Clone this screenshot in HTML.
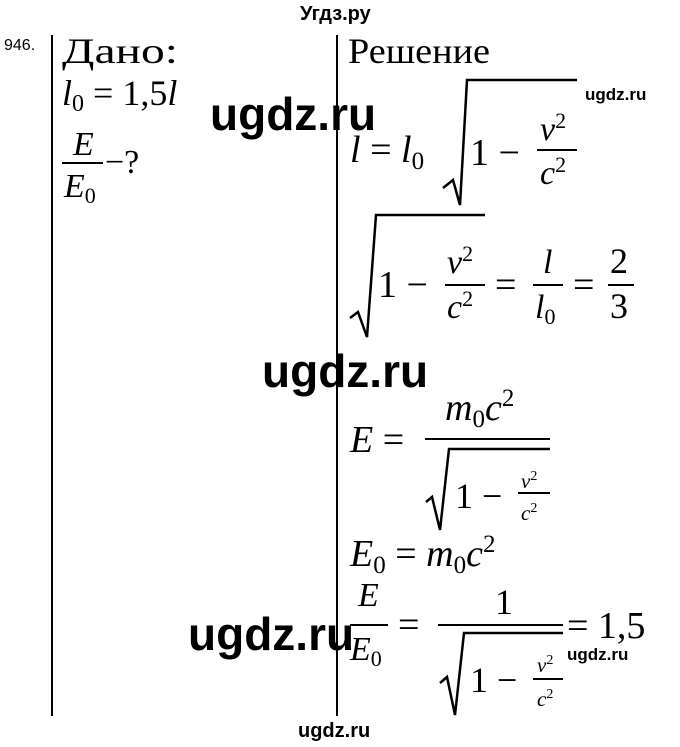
<!DOCTYPE html>
<html><head><meta charset="utf-8"><style>
html,body{margin:0;padding:0;background:#fff;}
svg{display:block}
.s{font-family:"Liberation Serif",serif;fill:#000}
.i{font-style:italic}
.w{font-family:"Liberation Sans",sans-serif;font-weight:bold;fill:#000}
</style></head><body>
<svg width="680" height="747" viewBox="0 0 680 747" xmlns="http://www.w3.org/2000/svg">
<text x="300" y="20" class="w" font-size="20">Угдз.ру</text>
<text x="4" y="50" font-family="Liberation Sans,sans-serif" font-size="16">946.</text>
<line x1="52" y1="35" x2="52" y2="716" stroke="#000" stroke-width="2"/>
<line x1="337" y1="35" x2="337" y2="716" stroke="#000" stroke-width="2"/>
<text x="62" y="63" class="s" font-size="36" textLength="116" lengthAdjust="spacingAndGlyphs">Дано:</text>
<text x="348" y="63" class="s" font-size="36" textLength="142" lengthAdjust="spacingAndGlyphs">Решение</text>
<text x="62" y="105" class="s" font-size="36"><tspan class="i">l</tspan><tspan font-size="24" dy="6">0</tspan><tspan dy="-6"> = 1,5</tspan><tspan class="i">l</tspan></text>
<text x="73" y="155" class="s i" font-size="34">E</text>
<line x1="62" y1="163" x2="103" y2="163" stroke="#000" stroke-width="2"/>
<text x="64" y="197" class="s" font-size="34"><tspan class="i">E</tspan><tspan font-size="22" dy="6">0</tspan></text>
<text x="105" y="173" class="s" font-size="34">−?</text>
<text x="210" y="130" class="w" font-size="46">ugdz.ru</text>
<text x="585" y="100" class="w" font-size="17">ugdz.ru</text>
<text x="350" y="162" class="s" font-size="38"><tspan class="i">l</tspan><tspan> = </tspan><tspan class="i">l</tspan><tspan font-size="25" dy="7">0</tspan></text>
<polyline points="443,188 453,180 460,205 467,80 577,80" fill="none" stroke="#000" stroke-width="2.5"/>
<text x="470" y="165" class="s" font-size="38">1 −</text>
<text x="540" y="140" class="s i" font-size="34">v<tspan font-size="22" dy="-12" font-style="normal">2</tspan></text>
<line x1="537" y1="150" x2="577" y2="150" stroke="#000" stroke-width="2"/>
<text x="540" y="184" class="s i" font-size="34">c<tspan font-size="22" dy="-12" font-style="normal">2</tspan></text>
<polyline points="350,318 358,312 367,337 376,215 485,215" fill="none" stroke="#000" stroke-width="2.5"/>
<text x="378" y="297" class="s" font-size="38">1 −</text>
<text x="447" y="273" class="s i" font-size="34">v<tspan font-size="22" dy="-12" font-style="normal">2</tspan></text>
<line x1="445" y1="285" x2="485" y2="285" stroke="#000" stroke-width="2"/>
<text x="447" y="318" class="s i" font-size="34">c<tspan font-size="22" dy="-12" font-style="normal">2</tspan></text>
<text x="495" y="297" class="s" font-size="38">=</text>
<text x="543" y="273" class="s i" font-size="34">l</text>
<line x1="533" y1="285" x2="563" y2="285" stroke="#000" stroke-width="2"/>
<text x="535" y="318" class="s" font-size="34"><tspan class="i">l</tspan><tspan font-size="22" dy="6">0</tspan></text>
<text x="573" y="297" class="s" font-size="38">=</text>
<text x="610" y="273" class="s" font-size="36">2</text>
<line x1="608" y1="285" x2="634" y2="285" stroke="#000" stroke-width="2"/>
<text x="610" y="318" class="s" font-size="36">3</text>
<text x="262" y="387" class="w" font-size="46">ugdz.ru</text>
<text x="350" y="452" class="s" font-size="38"><tspan class="i">E</tspan><tspan> =</tspan></text>
<text x="445" y="420" class="s i" font-size="38">m<tspan font-size="25" dy="7" font-style="normal">0</tspan><tspan dy="-7">c</tspan><tspan font-size="25" dy="-14" font-style="normal">2</tspan></text>
<line x1="425" y1="439" x2="550" y2="439" stroke="#000" stroke-width="2"/>
<polyline points="426,502 432,497 440,530 449,449 550,449" fill="none" stroke="#000" stroke-width="2.5"/>
<text x="455" y="508" class="s" font-size="36">1 −</text>
<text x="521" y="488" class="s i" font-size="21">v<tspan font-size="14" dy="-8" font-style="normal">2</tspan></text>
<line x1="518" y1="493" x2="550" y2="493" stroke="#000" stroke-width="2"/>
<text x="521" y="520" class="s i" font-size="21">c<tspan font-size="14" dy="-8" font-style="normal">2</tspan></text>
<text x="350" y="566" class="s" font-size="38"><tspan class="i">E</tspan><tspan font-size="25" dy="7">0</tspan><tspan dy="-7"> = </tspan><tspan class="i">m</tspan><tspan font-size="25" dy="7">0</tspan><tspan dy="-7" class="i">c</tspan><tspan font-size="25" dy="-14">2</tspan></text>
<text x="358" y="606" class="s i" font-size="34">E</text>
<line x1="350" y1="625" x2="388" y2="625" stroke="#000" stroke-width="2"/>
<text x="350" y="660" class="s" font-size="34"><tspan class="i">E</tspan><tspan font-size="22" dy="6">0</tspan></text>
<text x="398" y="637" class="s" font-size="38">=</text>
<text x="495" y="614" class="s" font-size="36">1</text>
<line x1="438" y1="625" x2="563" y2="625" stroke="#000" stroke-width="2"/>
<polyline points="440,683 447,677 455,715 464,633 563,633" fill="none" stroke="#000" stroke-width="2.5"/>
<text x="470" y="692" class="s" font-size="36">1 −</text>
<text x="537" y="672" class="s i" font-size="21">v<tspan font-size="14" dy="-8" font-style="normal">2</tspan></text>
<line x1="533" y1="679" x2="563" y2="679" stroke="#000" stroke-width="2"/>
<text x="537" y="706" class="s i" font-size="21">c<tspan font-size="14" dy="-8" font-style="normal">2</tspan></text>
<text x="567" y="638" class="s" font-size="38">= 1,5</text>
<text x="188" y="650" class="w" font-size="46">ugdz.ru</text>
<text x="567" y="660" class="w" font-size="17">ugdz.ru</text>
<text x="298" y="737" class="w" font-size="20">ugdz.ru</text>
</svg>
</body></html>
